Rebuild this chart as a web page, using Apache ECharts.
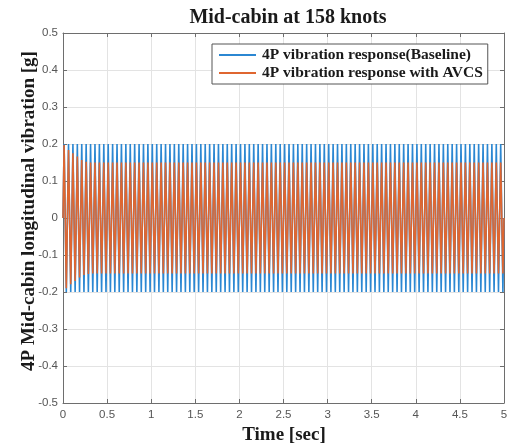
<!DOCTYPE html>
<html>
<head>
<meta charset="utf-8">
<title>Mid-cabin at 158 knots</title>
<script src="https://cdn.jsdelivr.net/npm/echarts@6/dist/echarts.min.js"></script>
<style>
  html, body { margin: 0; padding: 0; background: #fff; }
  #chart { width: 511px; height: 448px; }
</style>
</head>
<body>
<div id="chart"></div>
<script>
// Sample times [sec]: start, successive peaks/troughs of the 4P response, end
const timeSec = [
  0,
  0.0125, 0.0375, 0.0625, 0.0875, 0.1125, 0.1375, 0.1625, 0.1875,
  0.2125, 0.2375, 0.2625, 0.2875, 0.3125, 0.3375, 0.3625, 0.3875,
  0.4125, 0.4375, 0.4625, 0.4875, 0.5125, 0.5375, 0.5625, 0.5875,
  0.6125, 0.6375, 0.6625, 0.6875, 0.7125, 0.7375, 0.7625, 0.7875,
  0.8125, 0.8375, 0.8625, 0.8875, 0.9125, 0.9375, 0.9625, 0.9875,
  1.0125, 1.0375, 1.0625, 1.0875, 1.1125, 1.1375, 1.1625, 1.1875,
  1.2125, 1.2375, 1.2625, 1.2875, 1.3125, 1.3375, 1.3625, 1.3875,
  1.4125, 1.4375, 1.4625, 1.4875, 1.5125, 1.5375, 1.5625, 1.5875,
  1.6125, 1.6375, 1.6625, 1.6875, 1.7125, 1.7375, 1.7625, 1.7875,
  1.8125, 1.8375, 1.8625, 1.8875, 1.9125, 1.9375, 1.9625, 1.9875,
  2.0125, 2.0375, 2.0625, 2.0875, 2.1125, 2.1375, 2.1625, 2.1875,
  2.2125, 2.2375, 2.2625, 2.2875, 2.3125, 2.3375, 2.3625, 2.3875,
  2.4125, 2.4375, 2.4625, 2.4875, 2.5125, 2.5375, 2.5625, 2.5875,
  2.6125, 2.6375, 2.6625, 2.6875, 2.7125, 2.7375, 2.7625, 2.7875,
  2.8125, 2.8375, 2.8625, 2.8875, 2.9125, 2.9375, 2.9625, 2.9875,
  3.0125, 3.0375, 3.0625, 3.0875, 3.1125, 3.1375, 3.1625, 3.1875,
  3.2125, 3.2375, 3.2625, 3.2875, 3.3125, 3.3375, 3.3625, 3.3875,
  3.4125, 3.4375, 3.4625, 3.4875, 3.5125, 3.5375, 3.5625, 3.5875,
  3.6125, 3.6375, 3.6625, 3.6875, 3.7125, 3.7375, 3.7625, 3.7875,
  3.8125, 3.8375, 3.8625, 3.8875, 3.9125, 3.9375, 3.9625, 3.9875,
  4.0125, 4.0375, 4.0625, 4.0875, 4.1125, 4.1375, 4.1625, 4.1875,
  4.2125, 4.2375, 4.2625, 4.2875, 4.3125, 4.3375, 4.3625, 4.3875,
  4.4125, 4.4375, 4.4625, 4.4875, 4.5125, 4.5375, 4.5625, 4.5875,
  4.6125, 4.6375, 4.6625, 4.6875, 4.7125, 4.7375, 4.7625, 4.7875,
  4.8125, 4.8375, 4.8625, 4.8875, 4.9125, 4.9375, 4.9625, 4.9875,
  5
];

// Baseline 4P response [g] at the sample times above
const baselineG = [
  0,
  0.2, -0.2, 0.2, -0.2, 0.2, -0.2, 0.2, -0.2,
  0.2, -0.2, 0.2, -0.2, 0.2, -0.2, 0.2, -0.2,
  0.2, -0.2, 0.2, -0.2, 0.2, -0.2, 0.2, -0.2,
  0.2, -0.2, 0.2, -0.2, 0.2, -0.2, 0.2, -0.2,
  0.2, -0.2, 0.2, -0.2, 0.2, -0.2, 0.2, -0.2,
  0.2, -0.2, 0.2, -0.2, 0.2, -0.2, 0.2, -0.2,
  0.2, -0.2, 0.2, -0.2, 0.2, -0.2, 0.2, -0.2,
  0.2, -0.2, 0.2, -0.2, 0.2, -0.2, 0.2, -0.2,
  0.2, -0.2, 0.2, -0.2, 0.2, -0.2, 0.2, -0.2,
  0.2, -0.2, 0.2, -0.2, 0.2, -0.2, 0.2, -0.2,
  0.2, -0.2, 0.2, -0.2, 0.2, -0.2, 0.2, -0.2,
  0.2, -0.2, 0.2, -0.2, 0.2, -0.2, 0.2, -0.2,
  0.2, -0.2, 0.2, -0.2, 0.2, -0.2, 0.2, -0.2,
  0.2, -0.2, 0.2, -0.2, 0.2, -0.2, 0.2, -0.2,
  0.2, -0.2, 0.2, -0.2, 0.2, -0.2, 0.2, -0.2,
  0.2, -0.2, 0.2, -0.2, 0.2, -0.2, 0.2, -0.2,
  0.2, -0.2, 0.2, -0.2, 0.2, -0.2, 0.2, -0.2,
  0.2, -0.2, 0.2, -0.2, 0.2, -0.2, 0.2, -0.2,
  0.2, -0.2, 0.2, -0.2, 0.2, -0.2, 0.2, -0.2,
  0.2, -0.2, 0.2, -0.2, 0.2, -0.2, 0.2, -0.2,
  0.2, -0.2, 0.2, -0.2, 0.2, -0.2, 0.2, -0.2,
  0.2, -0.2, 0.2, -0.2, 0.2, -0.2, 0.2, -0.2,
  0.2, -0.2, 0.2, -0.2, 0.2, -0.2, 0.2, -0.2,
  0.2, -0.2, 0.2, -0.2, 0.2, -0.2, 0.2, -0.2,
  0.2, -0.2, 0.2, -0.2, 0.2, -0.2, 0.2, -0.2,
  0
];

// 4P response with AVCS [g]: settles from ~0.2 g to ~0.15 g within ~0.3 s
const avcsG = [
  0,
  0.197, -0.19, 0.184, -0.179, 0.175, -0.17, 0.166, -0.161,
  0.157, -0.154, 0.152, -0.151, 0.15, -0.15, 0.15, -0.15,
  0.15, -0.15, 0.15, -0.15, 0.15, -0.15, 0.15, -0.15,
  0.15, -0.15, 0.15, -0.15, 0.15, -0.15, 0.15, -0.15,
  0.15, -0.15, 0.15, -0.15, 0.15, -0.15, 0.15, -0.15,
  0.15, -0.15, 0.15, -0.15, 0.15, -0.15, 0.15, -0.15,
  0.15, -0.15, 0.15, -0.15, 0.15, -0.15, 0.15, -0.15,
  0.15, -0.15, 0.15, -0.15, 0.15, -0.15, 0.15, -0.15,
  0.15, -0.15, 0.15, -0.15, 0.15, -0.15, 0.15, -0.15,
  0.15, -0.15, 0.15, -0.15, 0.15, -0.15, 0.15, -0.15,
  0.15, -0.15, 0.15, -0.15, 0.15, -0.15, 0.15, -0.15,
  0.15, -0.15, 0.15, -0.15, 0.15, -0.15, 0.15, -0.15,
  0.15, -0.15, 0.15, -0.15, 0.15, -0.15, 0.15, -0.15,
  0.15, -0.15, 0.15, -0.15, 0.15, -0.15, 0.15, -0.15,
  0.15, -0.15, 0.15, -0.15, 0.15, -0.15, 0.15, -0.15,
  0.15, -0.15, 0.15, -0.15, 0.15, -0.15, 0.15, -0.15,
  0.15, -0.15, 0.15, -0.15, 0.15, -0.15, 0.15, -0.15,
  0.15, -0.15, 0.15, -0.15, 0.15, -0.15, 0.15, -0.15,
  0.15, -0.15, 0.15, -0.15, 0.15, -0.15, 0.15, -0.15,
  0.15, -0.15, 0.15, -0.15, 0.15, -0.15, 0.15, -0.15,
  0.15, -0.15, 0.15, -0.15, 0.15, -0.15, 0.15, -0.15,
  0.15, -0.15, 0.15, -0.15, 0.15, -0.15, 0.15, -0.15,
  0.15, -0.15, 0.15, -0.15, 0.15, -0.15, 0.15, -0.15,
  0.15, -0.15, 0.15, -0.15, 0.15, -0.15, 0.15, -0.15,
  0.15, -0.15, 0.15, -0.15, 0.15, -0.15, 0.15, -0.15,
  0
];

const seriesNames = [
  '4P vibration response(Baseline)',
  '4P vibration response with AVCS'
];
const seriesColors = ['#2b87d2', '#df6630'];

const chart = echarts.init(document.getElementById('chart'), null, { renderer: 'canvas' });

const serif = '"Liberation Serif", "DejaVu Serif", serif';
const sans = '"Liberation Sans", Arial, sans-serif';
const axisGray = '#6e6e6e';
const labelFont = { fontFamily: serif, fontWeight: 'bold', fontSize: 19, fill: '#1a1a1a' };

function pairs(xs, ys) {
  return xs.map((x, i) => [x, ys[i]]);
}

const baseAxis = {
  axisLine: { show: true, onZero: false, lineStyle: { color: axisGray, width: 1 } },
  axisTick: { show: true, inside: true, length: 4, lineStyle: { color: axisGray } },
  splitLine: { show: false }
};

chart.setOption({
  animation: false,
  backgroundColor: '#ffffff',
  title: {
    text: 'Mid-cabin at 158 knots',
    left: 283,
    textAlign: 'center',
    top: 3,
    textStyle: { fontFamily: serif, fontWeight: 'bold', fontSize: 20, color: '#1a1a1a' }
  },
  grid: { left: 63, right: 7, top: 33, bottom: 45, containLabel: false },
  legend: {
    left: 212,
    top: 44,
    orient: 'vertical',
    itemGap: 2,
    itemWidth: 37,
    itemHeight: 2,
    padding: [3, 5, 3, 7],
    backgroundColor: '#ffffff',
    borderColor: '#555555',
    borderWidth: 1,
    borderRadius: 0,
    icon: 'rect',
    textStyle: { fontFamily: serif, fontWeight: 'bold', fontSize: 15.5, color: '#1a1a1a', padding: [0, 0, 0, 1] },
    data: seriesNames
  },
  // axis titles drawn as text elements, centred on the plot edges
  graphic: [
    {
      type: 'text',
      x: 284,
      y: 435,
      style: Object.assign({ text: 'Time [sec]', x: 0, y: 0, textAlign: 'center', textVerticalAlign: 'middle' }, labelFont)
    },
    {
      type: 'text',
      x: 29,
      y: 211,
      rotation: Math.PI / 2,
      style: Object.assign({ text: '4P Mid-cabin longitudinal vibration [g]', x: 0, y: 0, textAlign: 'center', textVerticalAlign: 'middle' }, labelFont)
    }
  ],
  xAxis: [
    Object.assign({}, baseAxis, {
      type: 'value',
      position: 'bottom',
      min: 0, max: 5, interval: 0.5,
      axisLabel: { fontFamily: sans, fontSize: 11.5, color: '#555555', margin: 6 },
      splitLine: { show: true, lineStyle: { color: '#e3e3e3', width: 1 } }
    }),
    Object.assign({}, baseAxis, {
      type: 'value',
      position: 'top',
      min: 0, max: 5, interval: 0.5,
      axisLabel: { show: false }
    })
  ],
  yAxis: [
    Object.assign({}, baseAxis, {
      type: 'value',
      position: 'left',
      min: -0.5, max: 0.5, interval: 0.1,
      axisLabel: {
        fontFamily: sans, fontSize: 11.5, color: '#555555', margin: 5,
        formatter: v => (Math.abs(v) < 1e-9 ? '0' : v.toFixed(1))
      },
      splitLine: { show: true, lineStyle: { color: '#e3e3e3', width: 1 } }
    }),
    Object.assign({}, baseAxis, {
      type: 'value',
      position: 'right',
      min: -0.5, max: 0.5, interval: 0.1,
      axisLabel: { show: false }
    })
  ],
  series: [
    {
      name: seriesNames[0],
      type: 'line',
      data: pairs(timeSec, baselineG),
      showSymbol: false,
      sampling: null,
      color: seriesColors[0],
      lineStyle: { width: 1.6, color: seriesColors[0] },
      z: 2
    },
    {
      name: seriesNames[1],
      type: 'line',
      data: pairs(timeSec, avcsG),
      showSymbol: false,
      sampling: null,
      color: seriesColors[1],
      lineStyle: { width: 1.6, color: seriesColors[1] },
      z: 3
    }
  ]
});
</script>
</body>
</html>
